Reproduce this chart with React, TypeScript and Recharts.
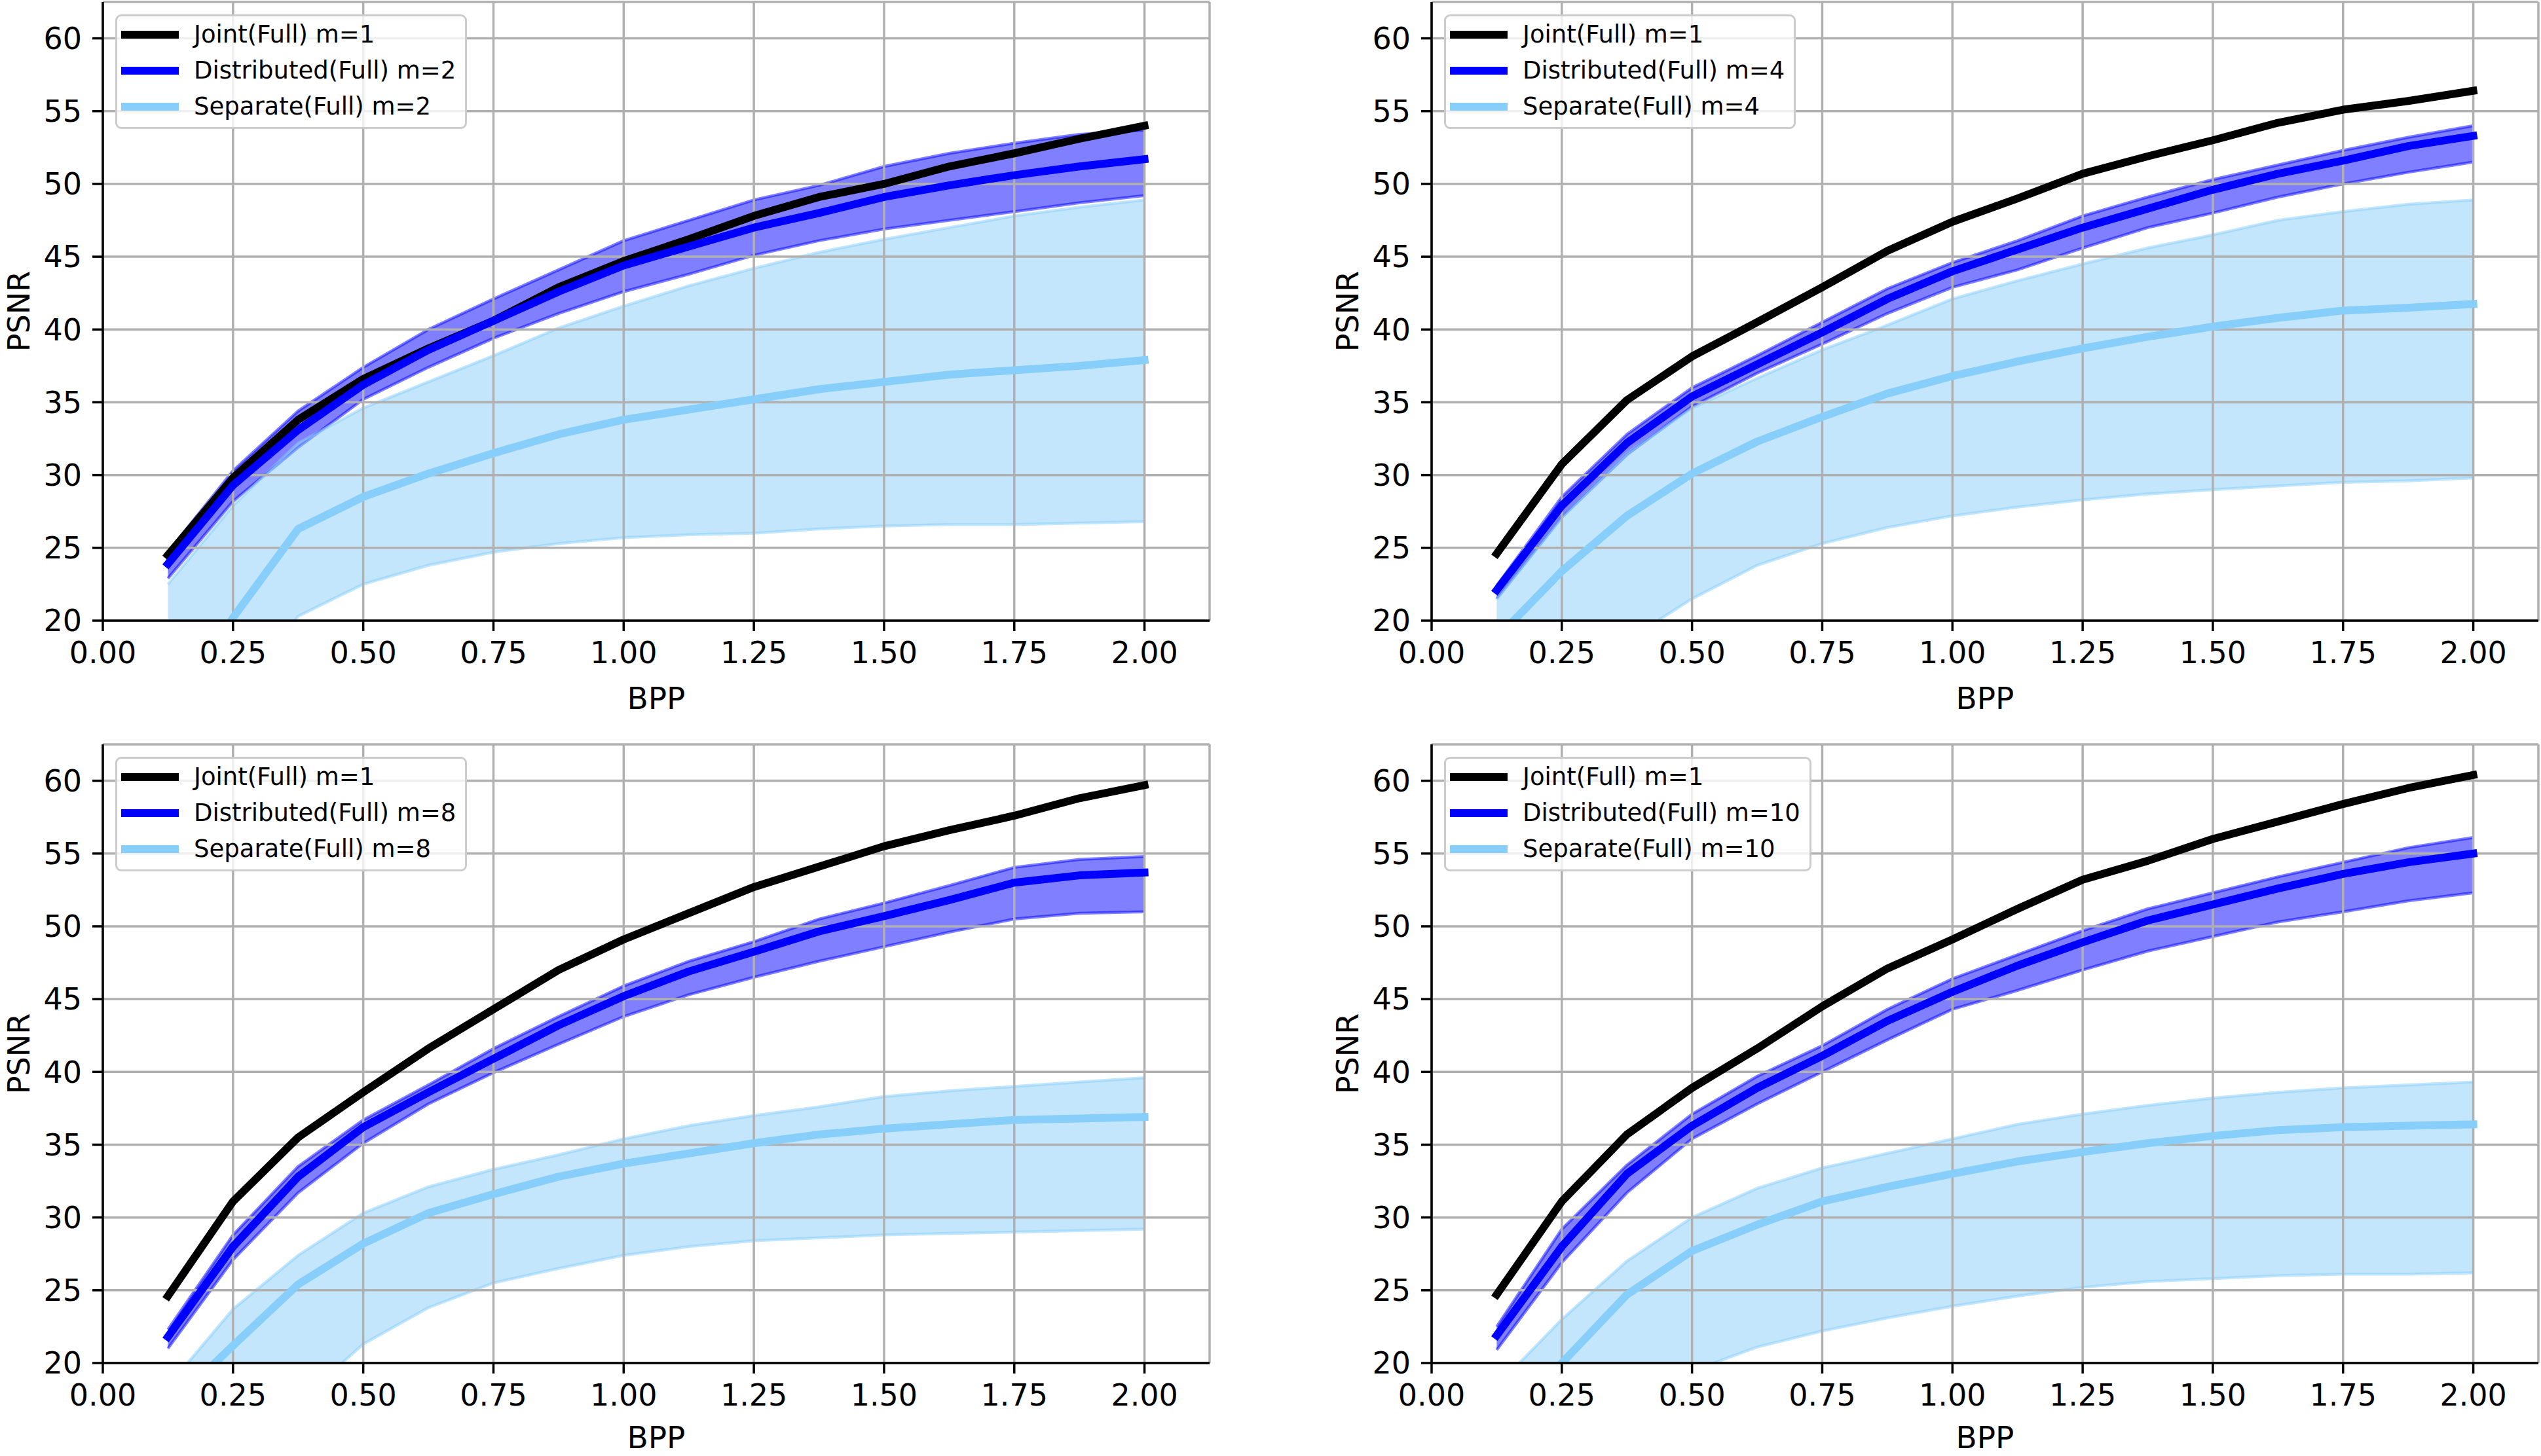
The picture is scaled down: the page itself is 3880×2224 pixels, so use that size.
import { useMemo } from 'react'
import { ComposedChart, Line, Area, XAxis, YAxis, CartesianGrid, Legend } from 'recharts'

// bits per pixel sampled on every panel
const BPP = [0.125, 0.25, 0.375, 0.5, 0.625, 0.75, 0.875, 1.0, 1.125, 1.25, 1.375, 1.5, 1.625, 1.75, 1.875, 2.0]
const X_TICKS = [0, 0.25, 0.5, 0.75, 1.0, 1.25, 1.5, 1.75, 2.0]
const Y_TICKS = [20, 25, 30, 35, 40, 45, 50, 55, 60]

// m = 2
const joint2 = [24.5, 29.8, 33.8, 36.6, 38.7, 40.6, 42.9, 44.7, 46.2, 47.8, 49.1, 50.0, 51.2, 52.1, 53.1, 54.0]
const dist2 = [23.9, 29.3, 33.1, 36.2, 38.6, 40.6, 42.6, 44.4, 45.7, 47.0, 48.0, 49.1, 49.9, 50.6, 51.2, 51.7]
const dist2Lo = [22.9, 28.2, 31.9, 35.2, 37.4, 39.4, 41.1, 42.6, 43.8, 45.1, 46.1, 46.9, 47.5, 48.1, 48.7, 49.2]
const dist2Hi = [24.7, 30.3, 34.4, 37.4, 40.0, 42.1, 44.1, 46.1, 47.5, 48.9, 49.9, 51.2, 52.1, 52.8, 53.4, 53.7]
const sep2 = [13.0, 20.2, 26.3, 28.5, 30.1, 31.5, 32.8, 33.8, 34.5, 35.2, 35.9, 36.4, 36.9, 37.2, 37.5, 37.9]
const sep2Lo = [10.0, 14.0, 20.3, 22.5, 23.8, 24.7, 25.3, 25.7, 25.9, 26.0, 26.3, 26.5, 26.6, 26.6, 26.7, 26.8]
const sep2Hi = [22.5, 27.9, 32.2, 34.6, 36.4, 38.2, 40.1, 41.6, 43.0, 44.2, 45.3, 46.2, 47.0, 47.8, 48.4, 48.9]

// m = 4
const joint4 = [24.6, 30.75, 35.15, 38.15, 40.5, 42.9, 45.4, 47.4, 49.0, 50.7, 51.9, 53.0, 54.2, 55.1, 55.7, 56.4]
const dist4 = [22.1, 27.9, 32.2, 35.4, 37.6, 39.8, 42.1, 44.0, 45.5, 47.0, 48.3, 49.6, 50.7, 51.6, 52.6, 53.3]
const dist4Lo = [21.5, 27.1, 31.4, 34.7, 37.0, 39.0, 41.1, 42.9, 44.1, 45.6, 47.0, 48.0, 49.1, 50.0, 50.8, 51.5]
const dist4Hi = [22.4, 28.5, 32.8, 36.0, 38.2, 40.5, 42.8, 44.6, 46.1, 47.8, 49.1, 50.3, 51.3, 52.3, 53.2, 54.0]
const sep4 = [18.8, 23.4, 27.2, 30.1, 32.3, 34.0, 35.6, 36.8, 37.8, 38.7, 39.5, 40.2, 40.8, 41.3, 41.5, 41.75]
const sep4Lo = [12.0, 15.0, 18.65, 21.5, 23.8, 25.3, 26.4, 27.2, 27.8, 28.3, 28.7, 29.0, 29.25, 29.5, 29.6, 29.8]
const sep4Hi = [21.5, 27.1, 31.5, 34.6, 36.65, 38.6, 40.3, 42.1, 43.35, 44.5, 45.6, 46.5, 47.5, 48.1, 48.6, 48.9]

// m = 8
const joint8 = [24.6, 31.1, 35.5, 38.6, 41.6, 44.3, 47.0, 49.1, 50.9, 52.7, 54.1, 55.5, 56.6, 57.6, 58.8, 59.7]
const dist8 = [21.8, 28.0, 32.8, 36.2, 38.6, 40.9, 43.2, 45.2, 46.9, 48.25, 49.65, 50.7, 51.8, 53.0, 53.5, 53.7]
const dist8Lo = [21.0, 27.1, 31.7, 35.1, 37.8, 39.95, 41.9, 43.8, 45.3, 46.5, 47.6, 48.6, 49.6, 50.5, 50.9, 51.0]
const dist8Hi = [22.3, 28.8, 33.5, 36.7, 39.1, 41.6, 43.8, 45.9, 47.6, 48.95, 50.5, 51.6, 52.8, 54.05, 54.6, 54.8]
const sep8 = [16.9, 21.2, 25.4, 28.2, 30.3, 31.6, 32.8, 33.7, 34.4, 35.1, 35.7, 36.1, 36.4, 36.7, 36.8, 36.9]
const sep8Lo = [11.0, 14.0, 17.3, 21.3, 23.8, 25.5, 26.5, 27.4, 28.0, 28.4, 28.6, 28.8, 28.9, 29.0, 29.1, 29.2]
const sep8Hi = [18.4, 23.7, 27.4, 30.3, 32.1, 33.3, 34.3, 35.4, 36.3, 37.0, 37.6, 38.3, 38.7, 39.0, 39.3, 39.6]

// m = 10
const joint10 = [24.7, 31.1, 35.7, 38.9, 41.6, 44.5, 47.1, 49.1, 51.2, 53.2, 54.5, 56.0, 57.2, 58.4, 59.5, 60.4]
const dist10 = [21.9, 28.0, 33.0, 36.3, 38.9, 41.1, 43.5, 45.5, 47.3, 48.9, 50.4, 51.5, 52.6, 53.6, 54.4, 55.0]
const dist10Lo = [20.9, 26.9, 31.7, 35.4, 37.8, 40.0, 42.2, 44.3, 45.6, 47.0, 48.3, 49.3, 50.3, 51.0, 51.75, 52.3]
const dist10Hi = [22.5, 29.2, 33.6, 37.1, 39.7, 41.8, 44.3, 46.4, 48.05, 49.7, 51.2, 52.3, 53.4, 54.4, 55.4, 56.1]
const sep10 = [15.5, 20.0, 24.7, 27.7, 29.5, 31.1, 32.1, 33.0, 33.85, 34.5, 35.1, 35.6, 36.0, 36.2, 36.3, 36.4]
const sep10Lo = [12.0, 15.0, 17.5, 19.45, 21.1, 22.2, 23.1, 23.9, 24.6, 25.2, 25.6, 25.8, 26.0, 26.1, 26.1, 26.2]
const sep10Hi = [18.4, 23.0, 27.0, 30.0, 32.0, 33.4, 34.4, 35.4, 36.4, 37.1, 37.7, 38.2, 38.6, 38.9, 39.1, 39.3]

const FONT = '"DejaVu Sans", Verdana, sans-serif'
const JOINT = '#000000'
const DIST = '#0000ff'
const SEP = '#87cefa'
const GRID = '#b0b0b0'

const X_DOMAIN: [number, number] = [0, 2.125]
const Y_DOMAIN: [number, number] = [20, 62.5]

const CHART_W = 1940
const CHART_H = 1112

interface PanelSpec {
  m: number
  joint: number[]
  dist: number[]
  distLo: number[]
  distHi: number[]
  sep: number[]
  sepLo: number[]
  sepHi: number[]
  left: number
  top: number
  // where the plot box sits inside the 1940x1112 cell
  plotLeft: number
  plotTop: number
  plotRight: number
  plotBottom: number
  bppDy: number
}

const PANELS: PanelSpec[] = [
  { m: 2, joint: joint2, dist: dist2, distLo: dist2Lo, distHi: dist2Hi, sep: sep2, sepLo: sep2Lo, sepHi: sep2Hi,
    left: 0, top: 0, plotLeft: 157, plotTop: 3, plotRight: 1847, plotBottom: 948, bppDy: 135 },
  { m: 4, joint: joint4, dist: dist4, distLo: dist4Lo, distHi: dist4Hi, sep: sep4, sepLo: sep4Lo, sepHi: sep4Hi,
    left: 1940, top: 0, plotLeft: 246, plotTop: 3, plotRight: 1936, plotBottom: 948, bppDy: 135 },
  { m: 8, joint: joint8, dist: dist8, distLo: dist8Lo, distHi: dist8Hi, sep: sep8, sepLo: sep8Lo, sepHi: sep8Hi,
    left: 0, top: 1112, plotLeft: 157, plotTop: 25, plotRight: 1847, plotBottom: 970, bppDy: 130 },
  { m: 10, joint: joint10, dist: dist10, distLo: dist10Lo, distHi: dist10Hi, sep: sep10, sepLo: sep10Lo, sepHi: sep10Hi,
    left: 1940, top: 1112, plotLeft: 246, plotTop: 25, plotRight: 1936, plotBottom: 970, bppDy: 130 },
]

const TICK_STYLE = { fontSize: 46, fill: '#000', fontFamily: FONT }
const SPINE = { stroke: '#000', strokeWidth: 3.5 }

function LegendBox({ m }: { m: number }) {
  const items = [
    { label: 'Joint(Full) m=1', color: JOINT },
    { label: `Distributed(Full) m=${m}`, color: DIST },
    { label: `Separate(Full) m=${m}`, color: SEP },
  ]
  return (
    <div
      style={{
        border: '3px solid #cccccc',
        borderRadius: 9,
        background: 'rgba(255,255,255,0.8)',
        padding: '0 14px 4px 6px',
        fontFamily: FONT,
        fontSize: 37,
        color: '#000',
        whiteSpace: 'nowrap',
        boxSizing: 'border-box',
      }}
    >
      {items.map((it) => (
        <div key={it.label} style={{ display: 'flex', alignItems: 'center', height: 55 }}>
          <span style={{ display: 'inline-block', width: 88, height: 12, background: it.color, marginRight: 23 }} />
          <span>{it.label}</span>
        </div>
      ))}
    </div>
  )
}

function Panel({ spec }: { spec: PanelSpec }) {
  const rows = useMemo(
    () =>
      BPP.map((x, i) => ({
        x,
        joint: spec.joint[i],
        dist: spec.dist[i],
        distBand: [spec.distLo[i], spec.distHi[i]],
        sep: spec.sep[i],
        sepBand: [spec.sepLo[i], spec.sepHi[i]],
      })),
    [spec],
  )

  const xAxisH = CHART_H - spec.plotBottom
  const rightM = CHART_W - spec.plotRight

  return (
    <div style={{ position: 'absolute', left: spec.left, top: spec.top, width: CHART_W, height: CHART_H }}>
      <ComposedChart
        width={CHART_W}
        height={CHART_H}
        data={rows}
        margin={{ top: spec.plotTop, right: rightM, left: 0, bottom: 0 }}
        style={{ fontFamily: FONT }}
      >
        <Area
          dataKey="distBand"
          type="linear"
          fill={DIST}
          fillOpacity={0.5}
          stroke={DIST}
          strokeOpacity={0.5}
          strokeWidth={4.5}
          isAnimationActive={false}
          legendType="none"
          activeDot={false}
        />
        <Area
          dataKey="sepBand"
          type="linear"
          fill={SEP}
          fillOpacity={0.5}
          stroke={SEP}
          strokeOpacity={0.5}
          strokeWidth={4.5}
          isAnimationActive={false}
          legendType="none"
          activeDot={false}
        />
        <CartesianGrid stroke={GRID} strokeWidth={3.5} fill="none" zIndex={150} />
        <XAxis
          dataKey="x"
          type="number"
          domain={X_DOMAIN}
          ticks={X_TICKS}
          interval={0}
          allowDataOverflow
          height={xAxisH}
          tick={TICK_STYLE}
          tickSize={16}
          tickMargin={16}
          tickLine={SPINE}
          axisLine={SPINE}
          tickFormatter={(v: number) => v.toFixed(2)}
          label={{
            content: (props: any) => {
              const vb = props.viewBox || { x: spec.plotLeft, y: spec.plotBottom, width: spec.plotRight - spec.plotLeft }
              return (
                <text x={vb.x + vb.width / 2} y={vb.y + spec.bppDy} textAnchor="middle" style={{ fontSize: 47, fontFamily: FONT, fill: '#000' }}>
                  BPP
                </text>
              )
            },
          }}
        />
        <YAxis
          domain={Y_DOMAIN}
          ticks={Y_TICKS}
          interval={0}
          allowDataOverflow
          width={spec.plotLeft}
          tick={TICK_STYLE}
          tickSize={16}
          tickMargin={16}
          tickLine={SPINE}
          axisLine={SPINE}
          label={{
            content: (props: any) => {
              const vb = props.viewBox || { x: 0, y: spec.plotTop, width: spec.plotLeft, height: spec.plotBottom - spec.plotTop }
              const cx = vb.x + vb.width - 128
              const cy = vb.y + vb.height / 2
              return (
                <text
                  x={cx}
                  y={cy}
                  textAnchor="middle"
                  dominantBaseline="central"
                  transform={`rotate(-90, ${cx}, ${cy})`}
                  style={{ fontSize: 46, fontFamily: FONT, fill: '#000' }}
                >
                  PSNR
                </text>
              )
            },
          }}
        />
        {/* top and right spines */}
        <XAxis xAxisId="top" orientation="top" dataKey="x" type="number" domain={X_DOMAIN} height={0} tick={false} tickLine={false} axisLine={SPINE} />
        <YAxis yAxisId="right" orientation="right" domain={Y_DOMAIN} width={0} tick={false} tickLine={false} axisLine={SPINE} />

        <Line dataKey="joint" type="linear" stroke={JOINT} strokeWidth={12} strokeLinecap="square" strokeLinejoin="round" dot={false} activeDot={false} isAnimationActive={false} />
        <Line dataKey="dist" type="linear" stroke={DIST} strokeWidth={12} strokeLinecap="square" strokeLinejoin="round" dot={false} activeDot={false} isAnimationActive={false} />
        <Line dataKey="sep" type="linear" stroke={SEP} strokeWidth={12} strokeLinecap="square" strokeLinejoin="round" dot={false} activeDot={false} isAnimationActive={false} />

        <Legend
          layout="horizontal"
          verticalAlign="middle"
          align="center"
          wrapperStyle={{ left: spec.plotLeft + 19, top: spec.plotTop + 19, width: 'auto', height: 'auto' }}
          content={() => <LegendBox m={spec.m} />}
        />
      </ComposedChart>
    </div>
  )
}

export default function App() {
  return (
    <div style={{ position: 'absolute', left: 0, top: 0, width: 3880, height: 2224, background: '#fff', overflow: 'hidden' }}>
      {PANELS.map((p) => (
        <Panel key={p.m} spec={p} />
      ))}
    </div>
  )
}
